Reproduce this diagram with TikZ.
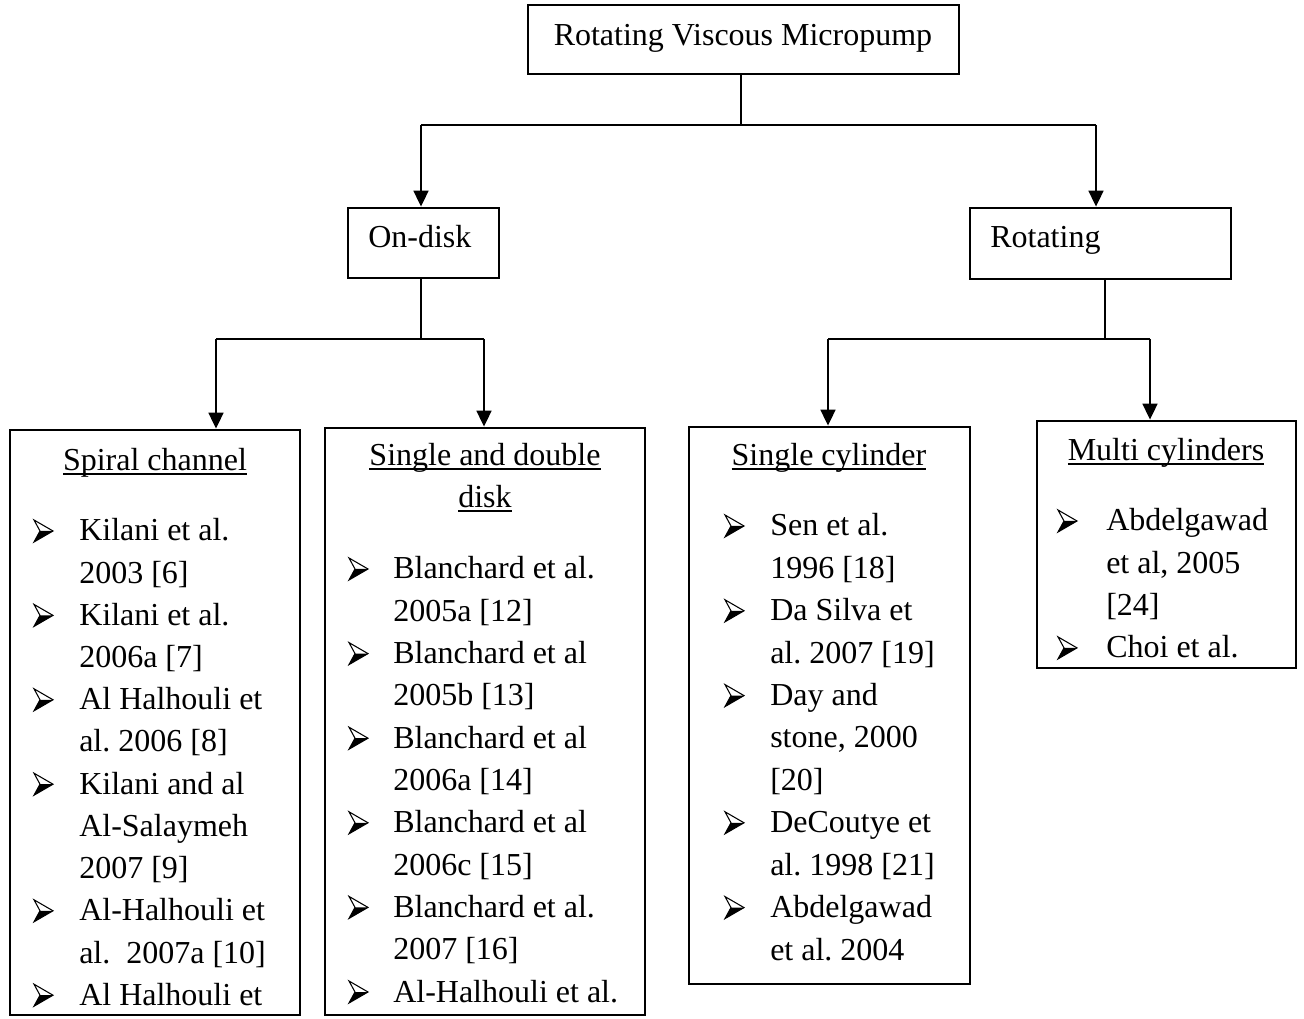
\documentclass[tikz,border=0pt]{standalone}
\usepackage{fontspec}
\setmainfont{Liberation Serif}
\usetikzlibrary{fit,arrows.meta}
\newcommand\ulx[1]{\setbox0\hbox{#1}\rlap{\rule[-3pt]{\wd0}{1.3pt}}#1}
\frenchspacing
\begin{document}
\begin{tikzpicture}[x=0.75pt,y=-0.75pt,font=\fontsize{24pt}{29pt}\selectfont,
 box/.style={draw,line width=2pt,inner sep=0pt},
 txt/.style={anchor=base west,inner sep=0pt},
 ttl/.style={anchor=base,inner sep=0pt},
 conn/.style={line width=2pt},
 arr/.style={line width=2pt,-{Triangle[width=11pt,length=12pt]}},
 arrbul/.pic={\fill (6,-10) -- (19,-10) -- (0,1) -- cycle;
   \draw[line width=0.8pt,line join=miter] (0,-21) -- (19,-10) -- (0,1) -- (6,-10) -- cycle;}]
\useasboundingbox (0,0) rectangle (1304,1019);
% boxes
\coordinate (t1) at (528,5); \coordinate (t2) at (959,74);
\node[box,fit=(t1)(t2)] (top) {};
\coordinate (o1) at (348,208); \coordinate (o2) at (499,278);
\node[box,fit=(o1)(o2)] (ondisk) {};
\coordinate (r1) at (970,208); \coordinate (r2) at (1231,279);
\node[box,fit=(r1)(r2)] (rot) {};
\coordinate (s1) at (10,430); \coordinate (s2) at (300,1015);
\node[box,fit=(s1)(s2)] (spiral) {};
\coordinate (d1) at (325,428); \coordinate (d2) at (645,1015);
\node[box,fit=(d1)(d2)] (disk) {};
\coordinate (c1) at (689,427); \coordinate (c2) at (970,984);
\node[box,fit=(c1)(c2)] (cyl) {};
\coordinate (m1) at (1037,421); \coordinate (m2) at (1296,668);
\node[box,fit=(m1)(m2)] (multi) {};
% box texts
\node[ttl] (toptxt) at (743,46) {Rotating Viscous Micropump};
\node[txt] (ondtxt) at (368,248) {On-disk};
\node[txt] (rottxt) at (990,248) {Rotating};
\node[ttl] (sptitle) at (155,471) {\ulx{Spiral channel}};
\node[ttl] (dtitle1) at (485,466) {\ulx{Single and double}};
\node[ttl] (dtitle2) at (485,508) {\ulx{disk}};
\node[ttl] (ctitle) at (829,466) {\ulx{Single cylinder}};
\node[ttl] (mtitle) at (1166,461) {\ulx{Multi cylinders}};
% lists
\foreach \t/\b [count=\i] in {Kilani et al./1, 2003 [6]/0, Kilani et al./1, 2006a [7]/0,
  Al Halhouli et/1, al. 2006 [8]/0, Kilani and al/1, Al-Salaymeh/0, 2007 [9]/0,
  Al-Halhouli et/1, al.\enspace 2007a [10]/0, Al Halhouli et/1}
 {\node[txt] (sp\i) at (79,{541+42.2*(\i-1)}) {\t};
  \ifnum\b=1 \coordinate (spb\i) at (34,{541+42.2*(\i-1)}); \pic at (spb\i) {arrbul};\fi}
\foreach \t/\b [count=\i] in {Blanchard et al./1, 2005a [12]/0, Blanchard et al/1, 2005b [13]/0,
  Blanchard et al/1, 2006a [14]/0, Blanchard et al/1, 2006c [15]/0,
  Blanchard et al./1, 2007 [16]/0, Al-Halhouli et al./1}
 {\node[txt] (dk\i) at (393,{579+42.3*(\i-1)}) {\t};
  \ifnum\b=1 \coordinate (dkb\i) at (349,{579+42.3*(\i-1)}); \pic at (dkb\i) {arrbul};\fi}
\foreach \t/\b [count=\i] in {Sen et al./1, 1996 [18]/0, Da Silva et/1, al. 2007 [19]/0,
  Day and/1, {stone, 2000}/0, [20]/0, DeCoutye et/1, al. 1998 [21]/0,
  Abdelgawad/1, et al. 2004/0}
 {\node[txt] (cy\i) at (770,{536+42.4*(\i-1)}) {\t};
  \ifnum\b=1 \coordinate (cyb\i) at (725,{536+42.4*(\i-1)}); \pic at (cyb\i) {arrbul};\fi}
\foreach \t/\b [count=\i] in {Abdelgawad/1, {et al, 2005}/0, [24]/0, Choi et al./1}
 {\node[txt] (mu\i) at (1106,{531+42.3*(\i-1)}) {\t};
  \ifnum\b=1 \coordinate (mub\i) at (1058,{531+42.3*(\i-1)}); \pic at (mub\i) {arrbul};\fi}
% connectors
\coordinate (j1) at (741,125);
\draw[conn] (j1 |- top.south) -- (j1);
\coordinate (a1) at (421,125); \coordinate (a2) at (1096,125);
\draw[conn] (a1) -- (a2);
\draw[arr] (a1) -- (a1 |- ondisk.north);
\draw[arr] (a2) -- (a2 |- rot.north);
\coordinate (j2) at (421,339);
\draw[conn] (ondisk.south -| j2) -- (j2);
\coordinate (b1) at (216,339); \coordinate (b2) at (484,339);
\draw[conn] (b1) -- (b2);
\draw[arr] (b1) -- (b1 |- spiral.north);
\draw[arr] (b2) -- (b2 |- disk.north);
\coordinate (j3) at (1105,339);
\draw[conn] (rot.south -| j3) -- (j3);
\coordinate (e1) at (828,339); \coordinate (e2) at (1150,339);
\draw[conn] (e1) -- (e2);
\draw[arr] (e1) -- (e1 |- cyl.north);
\draw[arr] (e2) -- (e2 |- multi.north);
\end{tikzpicture}
\end{document}
